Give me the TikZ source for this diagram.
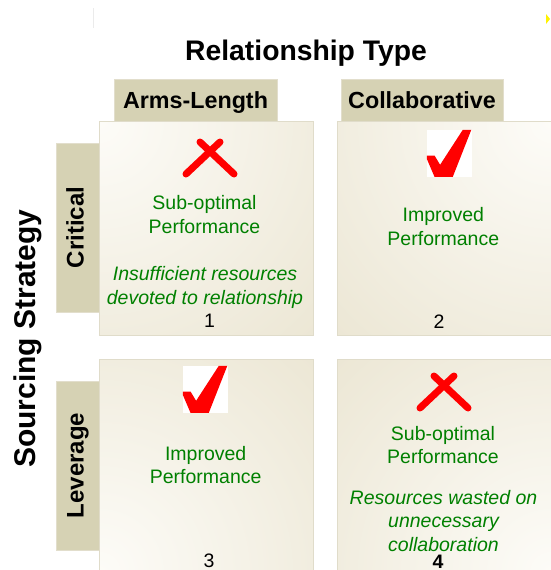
\documentclass[tikz,border=0pt]{standalone}
\usepackage{fontspec}
\setmainfont{Liberation Sans}
\usepackage{xcolor}
\usepackage{tikz}

\definecolor{boxfill}{RGB}{214,210,180}
\definecolor{boxline}{RGB}{226,222,204}
\definecolor{quaddark}{RGB}{229,222,198}
\definecolor{quadlight}{RGB}{253,252,248}
\definecolor{quadline}{RGB}{224,220,202}
\definecolor{okgreen}{RGB}{0,128,0}

% shading from the light corner of each cell
\newcommand{\glow}[1]{\shade[inner color=quadlight, outer color=quaddark] (path picture bounding box.#1) circle (430pt);}
\newcommand{\tickmark}[1]{%
  \fill[red, shift={(#1.north west)}] (0,25.7) -- (7.7,25.7) -- (13.3,35) -- (36,0) -- (44.5,0)
      -- (26,47) -- (7.7,47) -- (0,29) -- cycle;}

\begin{document}
\begin{tikzpicture}[
    x=1pt, y=-1pt,
    quad/.style={draw=quadline, line width=0.8pt, minimum width=214pt, minimum height=214pt, inner sep=0pt},
    colbox/.style={draw=boxline, fill=boxfill, minimum width=163pt, minimum height=42pt, inner sep=0pt,
        text height=17pt, text depth=0.4pt, font=\bfseries\fontsize{23.3}{28}\selectfont},
    rowbox/.style={draw=boxline, fill=boxfill, rotate=90, minimum width=169pt, minimum height=43pt, inner sep=0pt,
        text height=17pt, text depth=5pt, font=\bfseries\fontsize{24}{28}\selectfont},
    outcome/.style={text=okgreen, align=center, inner sep=0pt, font=\fontsize{19.5}{23.6}\selectfont},
    note/.style={outcome, font=\itshape\fontsize{19.5}{23.6}\selectfont},
    cellno/.style={inner sep=0pt, font=\fontsize{19.5}{23.6}\selectfont},
    tickbox/.style={fill=white, minimum width=45pt, minimum height=47pt, inner sep=0pt},
    cross/.style={draw=red, line width=7pt, line cap=round}
]
\useasboundingbox (0,0) rectangle (550,570);

% stray marks at the top
\draw[black!8] (93,8) -- (93,28);
\fill[yellow] (546,14) -- (550,19) -- (546,24) -- cycle;

% axis titles
\node[anchor=base, font=\bfseries\fontsize{28.3}{34}\selectfont] (reltype) at (306,60) {Relationship Type};
\node[rotate=90, font=\bfseries\fontsize{30}{36}\selectfont] (sourcing) at (28,338.5) {Sourcing Strategy};

% column and row headers
\node[colbox] (arms) at (195.5,100) {Arms-Length};
\node[colbox, minimum width=162pt] (collab) at (422,100) {Collaborative};
\node[rowbox] (critical) at (77.5,227.5) {Critical};
\node[rowbox] (leverage) at (77.5,465.5) {Leverage};

% the four cells
\node[quad, path picture={\glow{north west}}] (q1) at (206,228) {};
\node[quad, path picture={\glow{north east}}] (q2) at (444,228) {};
\node[quad, path picture={\glow{south west}}] (q3) at (206,466) {};
\node[quad, path picture={\glow{south east}}] (q4) at (444,466) {};

% cell 1
\draw[cross] (200,142) -- (234,174) (220,142) -- (186,174);
\node[outcome] (res1) at (204.5,214.7) {Sub-optimal\\Performance};
\node[note] (why1) at (205,287.4) {Insufficient resources\\devoted to relationship};
\node[cellno] (n1) at (209.5,321) {1};

% cell 2
\node[tickbox] (ck2) at (449.5,153.5) {};
\tickmark{ck2}
\node[outcome] (res2) at (443.3,226.8) {Improved\\Performance};
\node[cellno] (n2) at (439,321.5) {2};

% cell 3
\node[tickbox] (ck3) at (205.5,389.5) {};
\tickmark{ck3}
\node[outcome] (res3) at (205.7,465) {Improved\\Performance};
\node[cellno] (n3) at (209,561) {3};

% cell 4
\draw[cross] (434,376) -- (468,408) (454,376) -- (420,408);
\node[outcome] (res4) at (443,445) {Sub-optimal\\Performance};
\node[note] (why4) at (443.5,520.8) {Resources wasted on\\unnecessary\\collaboration};
\node[cellno, font=\bfseries\fontsize{19.5}{23.6}\selectfont] (n4) at (438,561.5) {4};
\end{tikzpicture}
\end{document}
